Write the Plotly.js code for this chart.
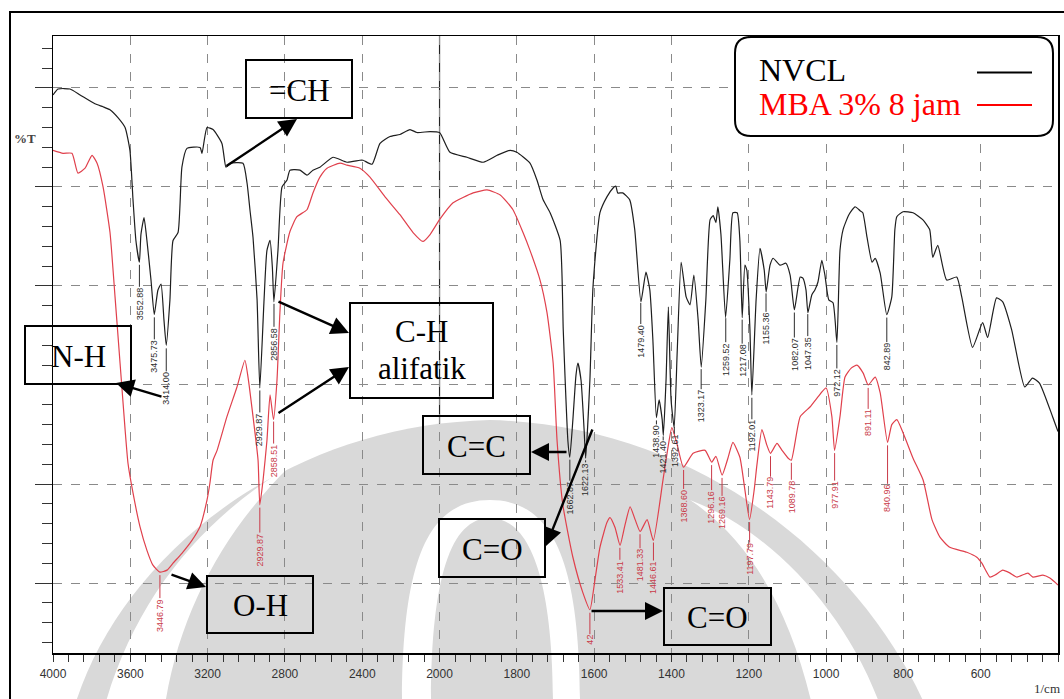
<!DOCTYPE html>
<html>
<head>
<meta charset="utf-8">
<script src="https://cdn.plot.ly/plotly-3.0.1.min.js"></script>
<style>
html,body{margin:0;padding:0;background:#fff;}
#chart{width:1064px;height:699px;}
</style>
</head>
<body>
<div id="chart"></div>
<script>
// ---------- DATA (wavenumber in 1/cm, transmittance in %T) ----------
const nvclWn = [4000,3974,3912,3860,3783,3741,3705,3664,3627,3602,3586,3571,3553,3545,3529,3514,3493,3476,3457,3441,3426,3414,3395,3379,3353,3333,3307,3239,3229,3203,3172,3126,3105,3084,3017,2996,2981,2965,2944,2930,2908,2893,2877,2865,2857,2836,2815,2789,2774,2722,2686,2655,2619,2551,2479,2412,2396,2349,2308,2256,2205,2153,2117,2049,2000,1973,1929,1887,1851,1818,1800,1766,1748,1732,1714,1688,1680,1675,1668,1663,1655,1647,1642,1634,1626,1622,1611,1603,1585,1567,1551,1544,1539,1526,1508,1495,1479,1466,1456,1448,1439,1432,1424,1421,1414,1408,1401,1393,1385,1375,1362,1352,1342,1331,1323,1311,1300,1292,1285,1280,1272,1260,1249,1241,1230,1223,1217,1210,1205,1197,1192,1181,1171,1160,1155,1145,1137,1119,1104,1093,1082,1067,1060,1052,1047,1037,1029,1021,1011,1003,993,982,972,964,956,941,925,912,905,894,881,873,860,843,830,822,817,801,775,750,732,724,711,688,662,649,621,595,582,559,543,520,486,466,448,414,400];
const nvclT  = [59.3,59.9,59.9,59.3,58.4,58.1,57.8,57.0,56.0,53.7,48.7,44.6,42.4,45.2,46.9,44.6,40.6,37.1,39.6,40.2,36.6,34.0,38.6,44.6,45.4,52.0,53.9,54.0,53.4,56.0,55.8,54.4,52.0,52.4,52.4,50.4,47.7,44.9,38.6,29.7,38.6,43.6,44.6,41.9,38.4,43.6,50.0,50.7,51.7,51.7,51.2,51.7,52.0,53.0,52.5,52.7,52.7,52.3,54.4,55.1,55.3,55.8,55.5,55.6,55.5,53.5,53.0,52.5,53.2,53.7,53.5,52.4,50.7,48.7,47.4,44.6,35.6,30.5,24.4,22.7,26.5,31.0,32.2,30.5,25.5,22.6,30.5,39.9,47.4,49.0,49.9,50.1,49.4,49.4,48.7,45.7,38.4,41.4,39.6,34.5,26.7,28.5,26.5,24.9,30.5,37.9,28.5,25.7,33.5,42.4,38.9,38.1,41.1,36.6,31.8,38.6,46.7,47.1,46.4,48.0,45.2,36.8,42.6,47.4,47.4,44.6,36.8,42.1,41.6,35.6,29.0,38.6,43.8,41.6,39.4,42.1,42.8,42.1,42.3,41.1,37.6,40.9,40.8,39.6,37.3,39.1,39.6,40.4,42.6,41.1,38.6,38.3,34.3,43.6,45.7,47.2,48.0,47.6,47.4,44.9,42.4,42.8,41.3,37.1,38.9,45.7,47.0,47.5,47.4,46.7,45.7,42.9,44.1,40.6,40.9,38.9,33.8,36.3,34.8,38.8,38.4,35.6,29.8,30.7,30.2,26.8,25.3];

const mbaWn = [4000,3948,3902,3871,3834,3798,3772,3741,3705,3679,3653,3627,3612,3586,3550,3514,3483,3447,3410,3379,3333,3281,3239,3203,3188,3172,3151,3100,3048,3007,2991,2965,2939,2930,2913,2893,2877,2859,2841,2826,2810,2774,2738,2686,2655,2619,2582,2515,2479,2412,2360,2282,2205,2137,2086,2049,2000,1965,1913,1877,1843,1810,1784,1766,1740,1722,1706,1696,1681,1655,1629,1611,1598,1585,1567,1559,1546,1533,1520,1507,1494,1481,1463,1447,1422,1409,1399,1386,1369,1344,1313,1296,1285,1269,1254,1241,1223,1210,1198,1186,1179,1166,1153,1144,1127,1114,1098,1090,1067,1041,1021,1000,985,978,964,951,935,920,904,891,873,860,841,830,817,796,775,749,726,705,680,636,610,597,576,563,543,524,506,478,465,439,421,400];
const mbaT  = [53.7,53.4,53.4,51.4,51.9,53.2,52.4,50.0,45.4,38.9,32.2,25.5,22.1,19.1,15.7,13.3,11.8,11.1,11.3,12.0,13.0,14.3,15.7,18.4,20.1,22.4,23.4,26.8,29.8,32.5,30.8,26.8,22.4,17.9,20.4,24.4,29.0,26.5,30.5,37.3,42.3,45.5,47.0,47.7,49.4,51.0,51.9,52.4,52.2,51.9,51.0,49.0,47.2,45.4,44.5,45.2,46.7,48.4,49.4,49.7,49.2,47.7,45.4,43.6,40.6,37.3,32.2,24.4,17.9,12.6,9.0,7.3,10.3,13.6,16.1,16.6,15.6,13.8,15.9,17.7,16.4,15.2,16.4,14.3,20.4,23.7,25.7,24.1,21.7,23.1,23.4,22.2,22.8,20.9,22.6,24.2,22.7,19.4,16.4,19.4,21.9,25.5,23.9,23.1,24.1,23.4,22.6,22.4,26.8,27.8,28.8,29.7,26.8,23.4,26.8,30.8,31.7,32.0,31.2,30.0,30.8,29.2,24.2,26.0,26.5,24.7,22.6,20.4,16.4,14.6,13.6,13.1,12.6,12.0,10.6,10.8,11.3,11.0,10.6,11.0,10.6,10.8,10.5,9.8];

const nvclPeakWn   = [3552.88,3475.73,3414.00,2929.87,2856.58,1662.87,1622.13,1479.40,1438.90,1421.40,1392.61,1323.17,1259.52,1217.08,1192.01,1155.36,1082.07,1047.35,972.12,842.89];
const nvclPeakText = ["3552.88","3475.73","3414.00","2929.87","2856.58","1662.87","1622.13","1479.40","1438.90","1421.40","1392.61","1323.17","1259.52","1217.08","1192.01","1155.36","1082.07","1047.35","972.12","842.89"];
const mbaPeakWn    = [3446.79,2929.87,2858.51,1611,1533.41,1481.33,1446.61,1368.60,1296.16,1269.16,1197.79,1143.79,1089.78,977.91,891.11,840.96];
const mbaPeakText  = ["3446.79","2929.87","2858.51","42","1533.41","1481.33","1446.61","1368.60","1296.16","1269.16","1197.79","1143.79","1089.78","977.91","891.11","840.96"];

const xTickVals = [4000,3600,3200,2800,2400,2000,1800,1600,1400,1200,1000,800,600,400];
const seriesNames = ["NVCL","MBA 3% 8 jam"];

// ---------- layout helpers (positions / styles) ----------
const nvclLabelOffset = [42,42,43,42,43,41,22,41,24,24,27,40,44,44,41,38,45,42,41,42];
const mbaLabelOffset  = [43,45,42,30,32,34,38,39,45,38,40,40,37,45,38,56];

// The instrument prints 4000-2000 at half the scale of 2000-400.
const U = wn => wn > 2000 ? 2000 + (wn - 2000) / 2 : wn;
function interp(wa, ta, w){
  for(let i=0;i<wa.length-1;i++){
    if((wa[i]>=w && wa[i+1]<=w)){
      const f=(w-wa[i])/(wa[i+1]-wa[i]);
      return ta[i]+f*(ta[i+1]-ta[i]);
    }
  }
  return ta[ta.length-1];
}
const PX = px => (px - 53) / 1005;
const PY = py => (653 - py) / 617;

const BLACK = '#1e1e1e', RED = '#e0404c', REDTXT = '#c93a48', LBLBLK = '#2c2c2c';

const traces = [
  {x: nvclWn.map(U), y: nvclT, name: seriesNames[0], type:'scatter', mode:'lines',
   line:{color:BLACK, width:1.2, shape:'spline', smoothing:0.5}, hoverinfo:'skip'},
  {x: mbaWn.map(U), y: mbaT, name: seriesNames[1], type:'scatter', mode:'lines',
   line:{color:RED, width:1.2, shape:'spline', smoothing:0.5}, hoverinfo:'skip'}
];

const annotations = [];
function peakAnn(w, txt, off, wa, ta, col){
  annotations.push({xref:'x', yref:'y', x:U(w), y:interp(wa,ta,w), text:txt, textangle:-90,
    showarrow:true, arrowhead:0, arrowwidth:1, arrowcolor:col, ax:0, ay:off, standoff:3,
    font:{family:'Liberation Sans, Arial, sans-serif', size:9, color:col}, borderpad:0});
}
nvclPeakWn.forEach((w,i)=>peakAnn(w, nvclPeakText[i], nvclLabelOffset[i], nvclWn, nvclT, LBLBLK));
mbaPeakWn.forEach((w,i)=>peakAnn(w, mbaPeakText[i], mbaLabelOffset[i], mbaWn, mbaT, REDTXT));

// boxed group labels
const boxes = [
  {t:'=CH', b:[246,60,352,118]},
  {t:'N-H', b:[25,326,131,384]},
  {t:'C=C', b:[423,416,530,474]},
  {t:'C=O', b:[439,519,545,577]},
  {t:'O-H', b:[207,576,313,633]},
  {t:'C=O', b:[664,588,771,645]},
  {t:'', b:[350,303,493,398]}
];
const shapes = [];
const serif = 'Liberation Serif, Times New Roman, serif';
boxes.forEach(o=>{
  const [x0,y0,x1,y1]=o.b;
  shapes.push({type:'rect', xref:'paper', yref:'paper', x0:PX(x0), x1:PX(x1), y0:PY(y1), y1:PY(y0),
    line:{color:'#000', width:2}, fillcolor:'rgba(0,0,0,0)', layer:'above'});
  if(o.t) annotations.push({xref:'paper', yref:'paper', x:PX((x0+x1)/2), y:PY((y0+y1)/2+1), text:o.t,
    showarrow:false, xanchor:'center', yanchor:'middle', font:{family:serif, size:31, color:'#000'}});
});
annotations.push({xref:'paper', yref:'paper', x:PX(421.5), y:PY(331), text:'C-H', showarrow:false,
  xanchor:'center', yanchor:'middle', font:{family:serif, size:31, color:'#000'}});
annotations.push({xref:'paper', yref:'paper', x:PX(421.5), y:PY(368), text:'alifatik', showarrow:false,
  xanchor:'center', yanchor:'middle', font:{family:serif, size:31, color:'#000'}});

// arrows: [tailX, tailY, headX, headY] in pixels
const arrows = [
  [225,167,297,119],
  [163,397,116,383],
  [277,301,349,333],
  [277,414,349,367],
  [568,452,531,452],
  [593,428,546,546],
  [170,574,206,587],
  [590,611,663,611]
];
arrows.forEach(a=>{
  annotations.push({xref:'paper', yref:'paper', x:PX(a[2]), y:PY(a[3]), ax:a[0]-a[2], ay:a[1]-a[3],
    text:'', showarrow:true, arrowhead:2, arrowsize:1.5, arrowwidth:2.4, arrowcolor:'#000', standoff:0, startstandoff:0});
});

// legend (custom: text left, sample line right)
function rr(x0,y0,x1,y1,r){
  const p=(x,y)=>PX(x).toFixed(5)+','+PY(y).toFixed(5);
  return 'M'+p(x0+r,y0)+' L'+p(x1-r,y0)+' Q'+p(x1,y0)+' '+p(x1,y0+r)+' L'+p(x1,y1-r)+' Q'+p(x1,y1)+' '+p(x1-r,y1)+
    ' L'+p(x0+r,y1)+' Q'+p(x0,y1)+' '+p(x0,y1-r)+' L'+p(x0,y0+r)+' Q'+p(x0,y0)+' '+p(x0+r,y0)+' Z';
}
shapes.push({type:'path', xref:'paper', yref:'paper', path:rr(735,37,1053,136,16),
  line:{color:'#000', width:2}, fillcolor:'#fff', layer:'above'});
shapes.push({type:'line', xref:'paper', yref:'paper', x0:PX(977), x1:PX(1032), y0:PY(72.5), y1:PY(72.5), line:{color:'#000', width:2}, layer:'above'});
shapes.push({type:'line', xref:'paper', yref:'paper', x0:PX(977), x1:PX(1032), y0:PY(105), y1:PY(105), line:{color:'#ff0000', width:2}, layer:'above'});
annotations.push({xref:'paper', yref:'paper', x:PX(757), y:PY(70), text:seriesNames[0], showarrow:false,
  xanchor:'left', yanchor:'middle', font:{family:serif, size:32, color:'#000'}});
annotations.push({xref:'paper', yref:'paper', x:PX(757), y:PY(104), text:seriesNames[1], showarrow:false,
  xanchor:'left', yanchor:'middle', font:{family:serif, size:32, color:'#ff0000'}});

// axis captions
annotations.push({xref:'paper', yref:'paper', x:PX(25), y:PY(138), text:'<b>%T</b>', showarrow:false,
  xanchor:'center', yanchor:'middle', font:{family:serif, size:13, color:'#444'}});
annotations.push({xref:'paper', yref:'paper', x:PX(1047), y:PY(688), text:'1/cm', showarrow:false,
  xanchor:'center', yanchor:'middle', font:{family:serif, size:13, color:'#333'}});

// solid line at the scale change (2000)
shapes.push({type:'line', xref:'x', yref:'paper', x0:2000, x1:2000, y0:0, y1:1, line:{color:'#222', width:1.2}, layer:'below'});

// outer frame
shapes.push({type:'rect', xref:'paper', yref:'paper', x0:PX(10), x1:PX(1080), y0:PY(720), y1:PY(12),
  line:{color:'#000', width:2}, fillcolor:'rgba(0,0,0,0)', layer:'above'});

// faint watermark (background)
function pth(cmds){
  return cmds.replace(/(-?\d+(?:\.\d+)?),(-?\d+(?:\.\d+)?)/g,(m,a,b)=>PX(+a).toFixed(5)+','+PY(+b).toFixed(5));
}
const WM='#d9d9d9';
shapes.push({type:'path', xref:'paper', yref:'paper', layer:'below', fillcolor:WM, line:{width:0},
  path:pth('M75,705 C120,560 280,425 490,420 C700,425 860,560 925,705 Z')});
shapes.push({type:'path', xref:'paper', yref:'paper', layer:'below', fillcolor:'#fff', line:{width:0},
  path:pth('M105,705 C135,600 200,520 290,466 C225,530 180,610 165,705 Z')});
shapes.push({type:'path', xref:'paper', yref:'paper', layer:'below', fillcolor:'#fff', line:{width:0},
  path:pth('M812,705 C790,610 750,540 690,500 C770,530 845,610 880,705 Z')});
shapes.push({type:'path', xref:'paper', yref:'paper', layer:'below', fillcolor:'#fff', line:{width:0},
  path:pth('M402,705 C402,560 428,500 490,500 C552,500 580,560 580,705 L553,705 C553,580 530,518 490,518 C450,518 431,580 431,705 Z')});

const minorX=[]; for(let v=400; v<=3000; v+=40){ if(v%200!==0) minorX.push(v); }

const layout = {
  width:1064, height:699,
  margin:{l:53, r:6, t:36, b:46, pad:0},
  paper_bgcolor:'#ffffff', plot_bgcolor:'rgba(0,0,0,0)',
  showlegend:false,
  xaxis:{
    range:[3000,400], tickmode:'array', tickvals:xTickVals.map(U), ticktext:xTickVals.map(String),
    ticks:'outside', ticklen:7, tickwidth:1, tickcolor:'#333', ticklabelstandoff:2,
    tickfont:{family:'Liberation Sans, Arial, sans-serif', size:12, color:'#333'},
    showgrid:true, gridcolor:'#8a8a8a', gridwidth:1, griddash:'dash',
    showline:true, linecolor:'#000', linewidth:1.5, mirror:true, zeroline:false,
    minor:{tickmode:'array', tickvals:minorX, ticks:'outside', ticklen:7, tickwidth:1, tickcolor:'#333', showgrid:false}
  },
  yaxis:{
    range:[2.93,65.25], tickmode:'linear', tick0:0, dtick:10, showticklabels:false,
    ticks:'outside', ticklen:17, tickwidth:1, tickcolor:'#333',
    showgrid:true, gridcolor:'#8a8a8a', gridwidth:1, griddash:'dash',
    showline:true, linecolor:'#000', linewidth:1.5, mirror:true, zeroline:false,
    minor:{tickmode:'linear', tick0:0, dtick:2, ticks:'outside', ticklen:10, tickwidth:1, tickcolor:'#333', showgrid:false}
  },
  shapes:shapes,
  annotations:annotations
};

Plotly.newPlot('chart', traces, layout, {staticPlot:true, displayModeBar:false});
</script>
</body>
</html>
